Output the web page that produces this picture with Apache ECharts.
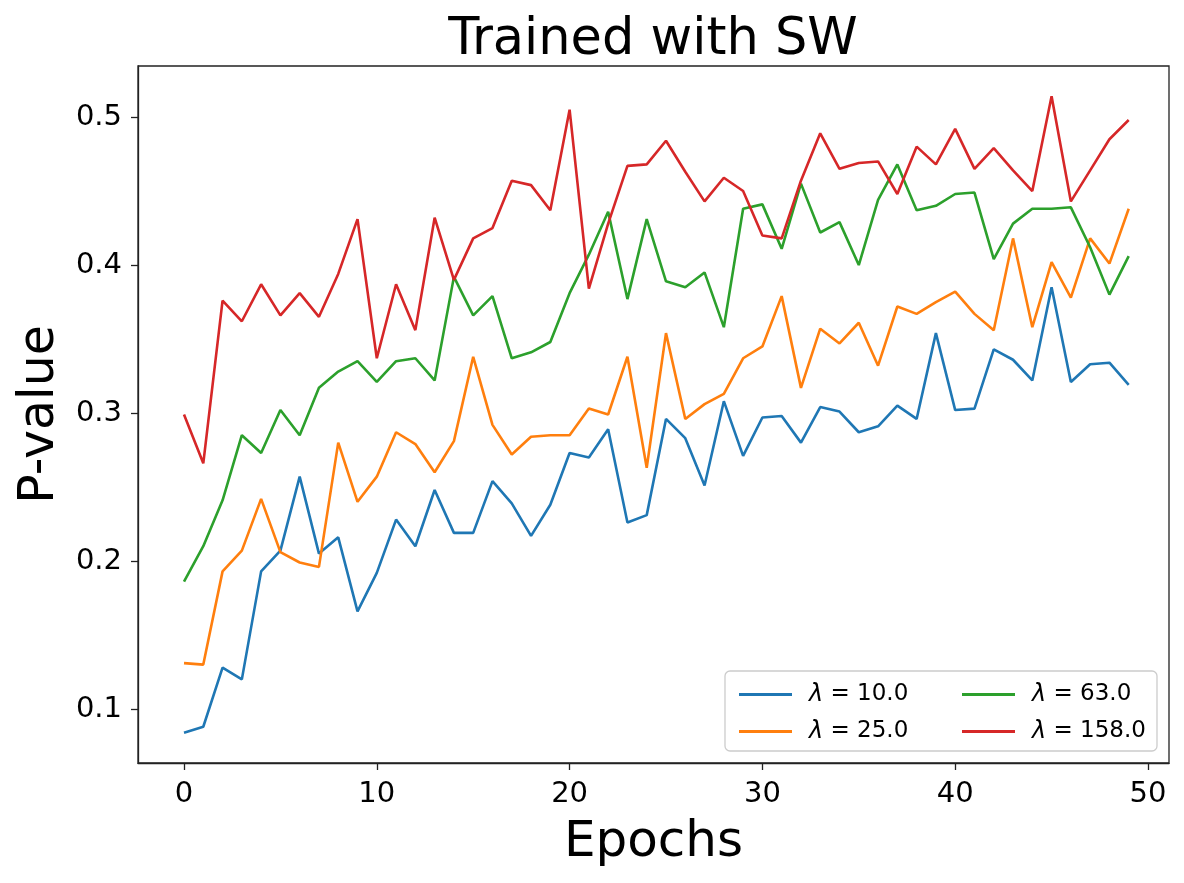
<!DOCTYPE html>
<html>
<head>
<meta charset="utf-8">
<script src="https://cdn.jsdelivr.net/npm/echarts@6/dist/echarts.min.js"></script>
<style>
html,body{margin:0;padding:0;background:#fff;}
#chart{width:1184px;height:883px;}
</style>
</head>
<body>
<div id="chart"></div>
<script>
const epochs = Array.from({length: 50}, (_, i) => i);
const seriesNames = ['λ = 10.0', 'λ = 25.0', 'λ = 63.0', 'λ = 158.0'];
const lam10 = [0.084,0.088,0.128,0.120,0.193,0.207,0.257,0.205,0.216,0.166,
  0.192,0.228,0.210,0.248,0.219,0.219,0.254,0.239,0.217,0.238,
  0.273,0.270,0.289,0.226,0.231,0.296,0.283,0.251,0.308,0.271,
  0.297,0.298,0.280,0.304,0.301,0.287,0.291,0.305,0.296,0.354,
  0.302,0.303,0.343,0.336,0.322,0.385,0.321,0.333,0.334,0.319];
const lam25 = [0.131,0.130,0.193,0.207,0.242,0.206,0.199,0.196,0.280,0.240,
  0.257,0.287,0.279,0.260,0.281,0.338,0.292,0.272,0.284,0.285,
  0.285,0.303,0.299,0.338,0.263,0.354,0.296,0.306,0.313,0.337,
  0.345,0.379,0.317,0.357,0.347,0.361,0.332,0.372,0.367,0.375,
  0.382,0.367,0.356,0.418,0.358,0.402,0.378,0.418,0.401,0.438];
const lam63 = [0.186,0.210,0.241,0.285,0.273,0.302,0.285,0.317,0.328,0.335,
  0.321,0.335,0.337,0.322,0.392,0.366,0.379,0.337,0.341,0.348,
  0.381,0.407,0.436,0.377,0.431,0.389,0.385,0.395,0.358,0.438,
  0.441,0.411,0.455,0.422,0.429,0.400,0.444,0.468,0.437,0.440,
  0.448,0.449,0.404,0.428,0.438,0.438,0.439,0.412,0.380,0.406];
const lam158 = [0.299,0.266,0.376,0.362,0.387,0.366,0.381,0.365,0.394,0.431,
  0.337,0.387,0.356,0.432,0.390,0.418,0.425,0.457,0.454,0.437,
  0.505,0.384,0.428,0.467,0.468,0.484,0.463,0.443,0.459,0.450,
  0.420,0.418,0.457,0.489,0.465,0.469,0.470,0.448,0.480,0.468,
  0.492,0.465,0.479,0.464,0.450,0.514,0.443,0.464,0.485,0.498];
const xTicks = [0, 10, 20, 30, 40, 50];
const yTicks = [0.1, 0.2, 0.3, 0.4, 0.5];
const colors = ['#1f77b4', '#ff7f0e', '#2ca02c', '#d62728'];
const allValues = [lam10, lam25, lam63, lam158];

const FONT = 'DejaVu Sans';
const chart = echarts.init(document.getElementById('chart'), null, {renderer: 'canvas'});

function legendFmt(name) {
  return '{a|λ}{b|' + name.slice(1) + '}';
}
const legendRich = {
  a: {fontFamily: FONT, fontStyle: 'italic', fontSize: 24, color: '#000', padding: [0, 0, 0, 12]},
  b: {fontFamily: FONT, fontSize: 23, color: '#000'}
};
const legendBase = {
  orient: 'vertical',
  icon: 'rect',
  itemWidth: 53,
  itemHeight: 3,
  itemGap: 12,
  z: 10,
  formatter: legendFmt,
  textStyle: {fontFamily: FONT, fontSize: 23, color: '#000', lineHeight: 25, rich: legendRich},
  selectedMode: false
};

const option = {
  backgroundColor: '#fff',
  animation: false,
  title: {
    text: 'Trained with SW',
    left: 648,
    textAlign: 'center',
    top: 10,
    textStyle: {fontFamily: FONT, fontSize: 51, fontWeight: 'normal', color: '#000'}
  },
  legend: [
    Object.assign({}, legendBase, {left: 734, top: 677, data: [seriesNames[0], seriesNames[1]]}),
    Object.assign({}, legendBase, {left: 957, top: 677, data: [seriesNames[2], seriesNames[3]]})
  ],
  graphic: [{
    type: 'rect',
    shape: {x: 725, y: 671, width: 432, height: 80, r: 5},
    style: {fill: 'rgba(255,255,255,0.8)', stroke: '#cccccc', lineWidth: 1.3},
    z: 5
  }],
  grid: {
    left: 138, right: 15, top: 66, bottom: 120,
    show: true, borderColor: '#222', borderWidth: 1.3, backgroundColor: 'transparent'
  },
  xAxis: {
    type: 'value',
    min: -2.386, max: 51.09,
    name: 'Epochs',
    nameLocation: 'middle',
    nameGap: 55,
    nameTextStyle: {fontFamily: FONT, fontSize: 50, color: '#000'},
    axisLine: {show: true, onZero: false, lineStyle: {color: '#222', width: 1.3}},
    axisTick: {show: true, length: 7, lineStyle: {color: '#222', width: 1.3}, customValues: xTicks},
    axisLabel: {customValues: xTicks, fontFamily: FONT, fontSize: 29, color: '#000', margin: 17},
    splitLine: {show: false}
  },
  yAxis: {
    type: 'value',
    min: 0.0635, max: 0.5345,
    name: 'P-value',
    nameLocation: 'middle',
    nameGap: 64,
    nameTextStyle: {fontFamily: FONT, fontSize: 49, color: '#000'},
    axisLine: {show: true, onZero: false, lineStyle: {color: '#222', width: 1.3}},
    axisTick: {show: true, length: 7, lineStyle: {color: '#222', width: 1.3}, customValues: yTicks},
    axisLabel: {customValues: yTicks, fontFamily: FONT, fontSize: 29, color: '#000', margin: 16,
      formatter: v => v.toFixed(1)},
    splitLine: {show: false}
  },
  series: seriesNames.map((n, k) => ({
    name: n,
    type: 'line',
    data: epochs.map((e, i) => [e, allValues[k][i]]),
    showSymbol: false,
    symbol: 'none',
    color: colors[k],
    lineStyle: {width: 2.6, color: colors[k]},
    z: 2 + k
  }))
};
chart.setOption(option);
</script>
</body>
</html>
